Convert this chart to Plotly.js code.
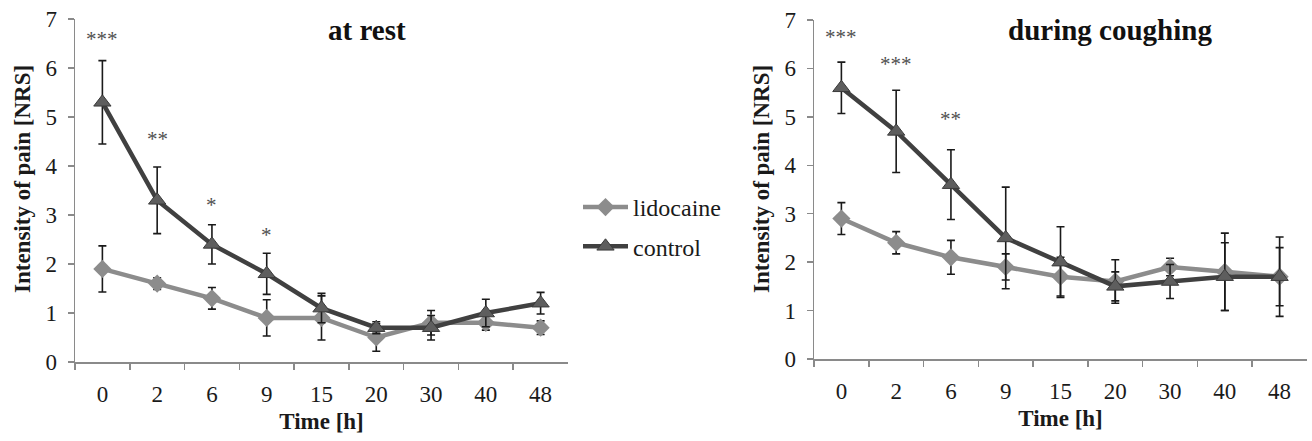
<!DOCTYPE html>
<html>
<head>
<meta charset="utf-8">
<script src="https://cdn.plot.ly/plotly-3.0.1.min.js"></script>
<style>html,body{margin:0;padding:0;background:#fff}#chart{width:1312px;height:441px}</style>
</head>
<body>
<div id="chart"></div>
<script>
// ---- data ----
const timeLabels = ["0", "2", "6", "9", "15", "20", "30", "40", "48"];

const restLidocaine = [1.9, 1.6, 1.3, 0.9, 0.9, 0.5, 0.8, 0.8, 0.7];
const restLidocaineErr = [0.47, 0.12, 0.22, 0.37, 0.45, 0.28, 0.25, 0.15, 0.14];
const restControl = [5.3, 3.3, 2.4, 1.8, 1.1, 0.7, 0.7, 1.0, 1.2];
const restControlErr = [0.85, 0.68, 0.4, 0.42, 0.3, 0.12, 0.25, 0.28, 0.22];

const coughLidocaine = [2.9, 2.4, 2.1, 1.9, 1.7, 1.6, 1.9, 1.8, 1.7];
const coughLidocaineErr = [0.33, 0.23, 0.35, 0.27, 0.4, 0.45, 0.18, 0.8, 0.6];
const coughControl = [5.6, 4.7, 3.6, 2.5, 2.0, 1.5, 1.6, 1.7, 1.7];
const coughControlErr = [0.53, 0.85, 0.72, 1.05, 0.73, 0.3, 0.35, 0.7, 0.82];

// significance marks: [time label, y, text]
const restStars = [["0", 6.6, "***"], ["2", 4.55, "**"], ["6", 3.2, "*"], ["9", 2.6, "*"]];
const coughStars = [["0", 6.65, "***"], ["2", 6.1, "***"], ["6", 4.95, "**"]];

const panelTitles = ["at rest", "during coughing"];
const yTitle = "Intensity of pain [NRS]";
const xTitle = "Time [h]";

// ---- styling ----
const SERIF = "'Times New Roman', 'Liberation Serif', 'DejaVu Serif', serif";
const LIDO_COLOR = "#8c8c8c";
const CTRL_LINE = "#404040";
const CTRL_MARK = "#5e5e5e";
const AXIS_COLOR = "#8a8a8a";
const TXT = "#1a1a1a";

function lidoTrace(y, err, xa, ya, show) {
  return {
    type: "scatter", mode: "lines+markers", name: "lidocaine",
    x: timeLabels, y: y, xaxis: xa, yaxis: ya,
    legendgroup: "lido", showlegend: show,
    line: {color: LIDO_COLOR, width: 4.5},
    marker: {symbol: "diamond", size: 14, color: LIDO_COLOR},
    error_y: {type: "data", array: err, visible: true, color: "#1a1a1a", thickness: 1.6, width: 4}
  };
}
function ctrlTrace(y, err, xa, ya, show) {
  return {
    type: "scatter", mode: "lines+markers", name: "control",
    x: timeLabels, y: y, xaxis: xa, yaxis: ya,
    legendgroup: "ctrl", showlegend: show,
    line: {color: CTRL_LINE, width: 4.5},
    marker: {symbol: "triangle-up", size: 15, color: CTRL_MARK, line: {color: "#3a3a3a", width: 1}},
    error_y: {type: "data", array: err, visible: true, color: "#1a1a1a", thickness: 1.6, width: 4}
  };
}

const data = [
  lidoTrace(restLidocaine, restLidocaineErr, "x", "y", true),
  ctrlTrace(restControl, restControlErr, "x", "y", true),
  lidoTrace(coughLidocaine, coughLidocaineErr, "x2", "y2", false),
  ctrlTrace(coughControl, coughControlErr, "x2", "y2", false)
];

const W = 1312, H = 441;
function xAxis(d0, d1, anchor) {
  return {
    domain: [d0 / W, d1 / W], anchor: anchor,
    type: "category", categoryorder: "array", categoryarray: timeLabels,
    range: [-0.5, 8.5], tickson: "boundaries",
    showline: true, linecolor: AXIS_COLOR, linewidth: 1.5,
    ticks: "outside", ticklen: 6, tickcolor: AXIS_COLOR, tickwidth: 1.5,
    showgrid: false, zeroline: false,
    tickfont: {family: SERIF, size: 23, color: TXT},
    ticklabelstandoff: 11,
    title: {text: "<b>" + xTitle + "</b>", font: {family: SERIF, size: 23, color: TXT}, standoff: 7}
  };
}
function yAxis(top, bottom, anchor) {
  return {
    domain: [1 - bottom / H, 1 - top / H], anchor: anchor,
    range: [0, 7], dtick: 1, tick0: 0,
    showline: true, linecolor: AXIS_COLOR, linewidth: 1.5,
    ticks: "outside", ticklen: 6, tickcolor: AXIS_COLOR, tickwidth: 1.5,
    showgrid: false, zeroline: false,
    tickfont: {family: SERIF, size: 23, color: TXT},
    ticklabelstandoff: 6
  };
}

const annotations = [];
restStars.forEach(s => annotations.push({xref: "x", yref: "y", x: timeLabels.indexOf(s[0]), y: s[1], text: s[2],
  showarrow: false, xanchor: "center", yanchor: "middle", font: {family: SERIF, size: 21, color: "#505050"}}));
coughStars.forEach(s => annotations.push({xref: "x2", yref: "y2", x: timeLabels.indexOf(s[0]), y: s[1], text: s[2],
  showarrow: false, xanchor: "center", yanchor: "middle", font: {family: SERIF, size: 21, color: "#505050"}}));
annotations.push({xref: "paper", yref: "paper", x: 367 / W, y: 1 - 30 / H, xanchor: "center", yanchor: "middle",
  text: "<b>" + panelTitles[0] + "</b>", showarrow: false, font: {family: SERIF, size: 29, color: "#111"}});
annotations.push({xref: "paper", yref: "paper", x: 1110 / W, y: 1 - 30 / H, xanchor: "center", yanchor: "middle",
  text: "<b>" + panelTitles[1] + "</b>", showarrow: false, font: {family: SERIF, size: 29, color: "#111"}});
[22, 761].forEach(px => annotations.push({xref: "paper", yref: "paper", x: px / W, y: 1 - 179 / H,
  xanchor: "center", yanchor: "middle", textangle: -90, text: "<b>" + yTitle + "</b>", showarrow: false,
  font: {family: SERIF, size: 23, color: TXT}}));

const layout = {
  width: W, height: H,
  margin: {l: 0, r: 0, t: 0, b: 0},
  font: {family: SERIF, size: 21, color: TXT},
  paper_bgcolor: "#fff", plot_bgcolor: "#fff",
  showlegend: true,
  legend: {x: 578 / W, y: 1 - 185 / H, xanchor: "left", yanchor: "top",
    font: {family: SERIF, size: 24, color: TXT},
    traceorder: "grouped", tracegroupgap: 5, itemwidth: 45, bgcolor: "rgba(0,0,0,0)"},
  xaxis: xAxis(75, 568, "y"),
  yaxis: yAxis(19, 362, "x"),
  xaxis2: xAxis(814, 1307, "y2"),
  yaxis2: yAxis(20, 359, "x2"),
  annotations: annotations
};

Plotly.newPlot("chart", data, layout, {displayModeBar: false, staticPlot: true});
</script>
</body>
</html>
